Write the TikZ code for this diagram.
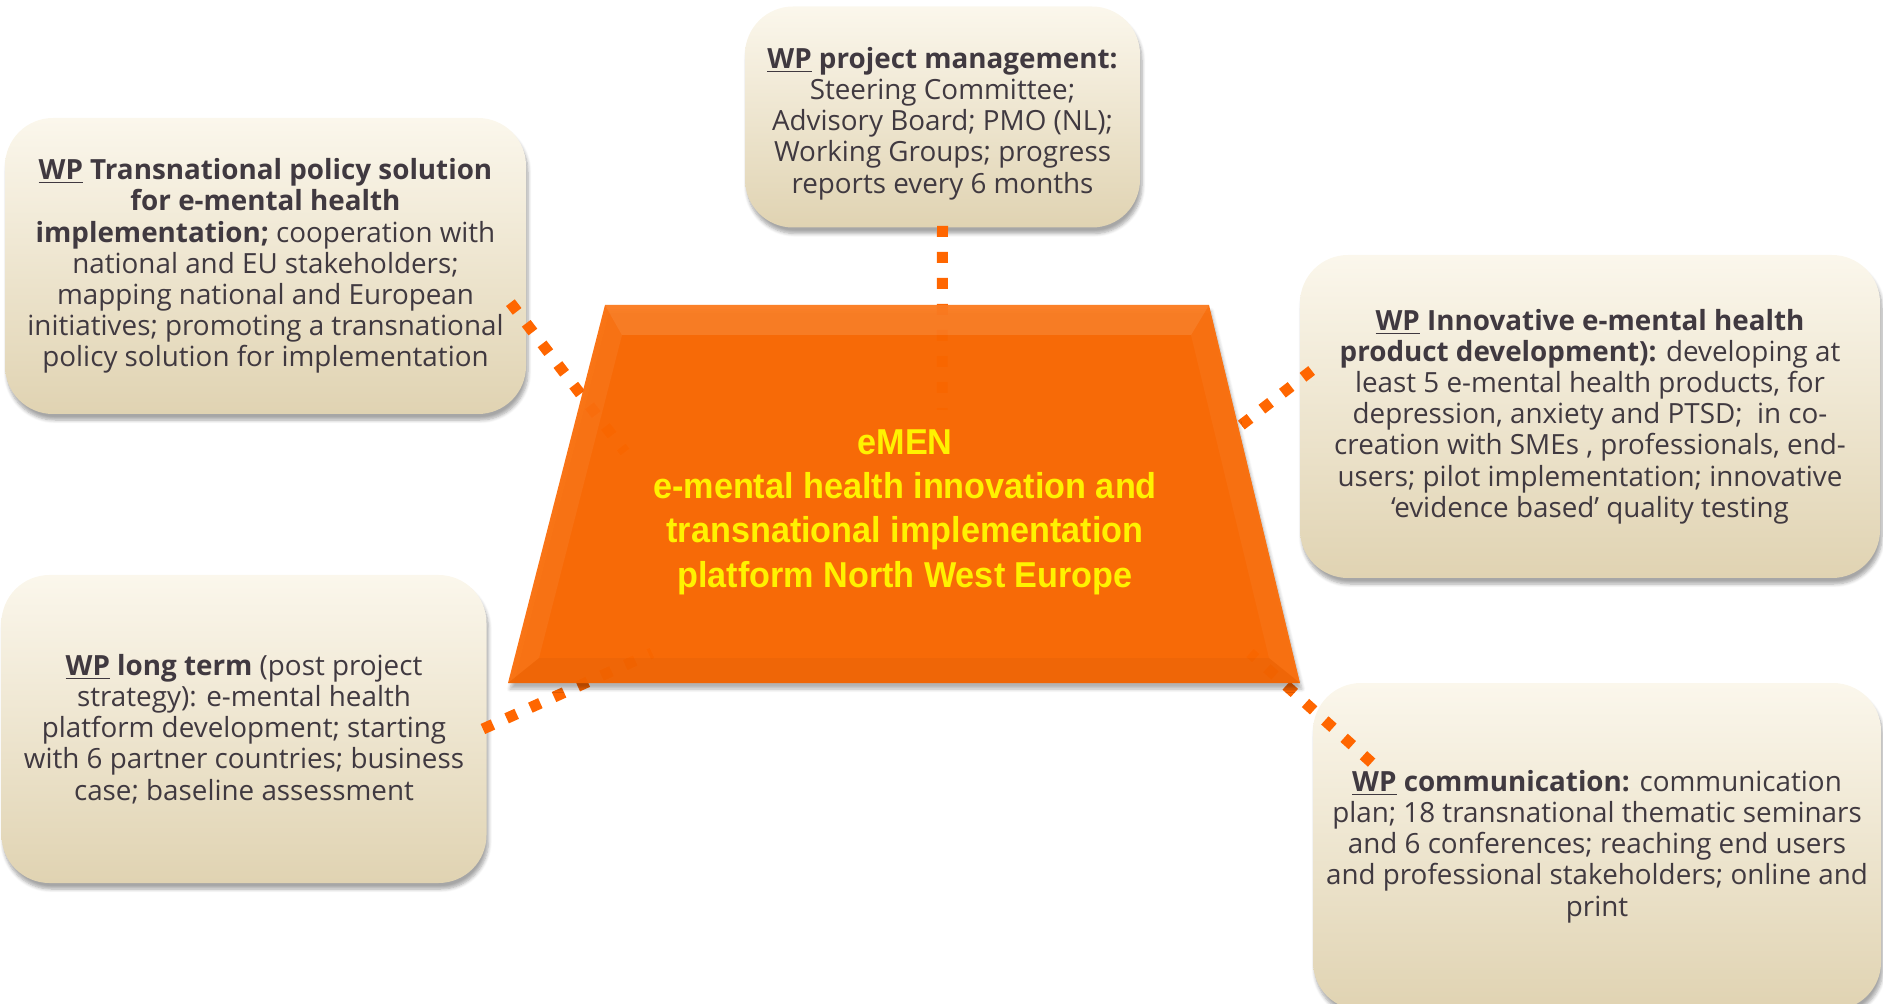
\documentclass[tikz,border=0pt]{standalone}
\usepackage{fontspec}
\newfontfamily\boxfont{Open Sans}
\newfontfamily\emenfont[FakeStretch=0.95]{Liberation Sans}
\usepackage{color}
\definecolor{myorange}{RGB}{251,104,0}
\definecolor{mydotorange}{RGB}{255,102,0}
\definecolor{mycreamtop}{RGB}{251,247,236}
\definecolor{mycreammid}{RGB}{244,233,206}
\definecolor{mycreambot}{RGB}{224,211,178}
\definecolor{mytextgray}{RGB}{64,57,64}
\usepackage{tikz}
\usetikzlibrary{calc,positioning,shadows.blur}

\begin{document}
\begin{tikzpicture}[
  x=0.5pt, y=-0.5pt,
  mybox/.style={
    rounded corners=24pt,
    top color=mycreamtop,
    middle color=mycreammid,
    bottom color=mycreambot,
    blur shadow={shadow xshift=1pt, shadow yshift=-3pt, shadow opacity=35, shadow blur steps=6},
    align=center,
    text=mytextgray,
    inner sep=0pt,
    font=\boxfont\fontsize{13.9}{15.6}\selectfont
    },
  mydots/.style={
    draw=mydotorange,
    line width=5.5pt,
    dash pattern=on 5.5pt off 7.5pt
    },
  mycenter/.style={
    align=center,
    text=yellow,
    font=\emenfont\bfseries\fontsize{18}{22.15}\selectfont
    }
]
\useasboundingbox (0,0) rectangle (1883,1004);

% work package boxes
\node[mybox, minimum width=197.5pt, minimum height=110.5pt]
  (pm) at (942.5,117)
  {\rule{0pt}{17pt}\textbf{\underline{WP} project management:}\\
   Steering Committee;\\
   Advisory Board; PMO (NL);\\
   Working Groups; progress\\
   reports every 6 months};

\node[mybox, minimum width=260.5pt, minimum height=148pt]
  (tp) at (265.5,266)
  {\textbf{\underline{WP} Transnational policy solution}\\
   \textbf{for e-mental health}\\
   \textbf{implementation;} cooperation with\\
   national and EU stakeholders;\\
   mapping national and European\\
   initiatives; promoting a transnational\\
   policy solution for implementation};

\node[mybox, minimum width=290pt, minimum height=161.5pt]
  (ip) at (1590,416.5)
  {\textbf{\underline{WP} Innovative e-mental health}\\
   \textbf{product development):} developing at\\
   least 5 e-mental health products, for\\
   depression, anxiety and PTSD;~~in co-\\
   creation with SMEs , professionals, end-\\
   users; pilot implementation; innovative\\
   ‘evidence based’ quality testing};

\node[mybox, minimum width=242.5pt, minimum height=154pt]
  (lt) at (244,729)
  {\textbf{\underline{WP} long term} (post project\\
   strategy): e-mental health\\
   platform development; starting\\
   with 6 partner countries; business\\
   case; baseline assessment};

\node[mybox, minimum width=284pt, minimum height=163.5pt]
  (com) at (1597,846.5)
  {\textbf{\underline{WP} communication:} communication\\
   plan; 18 transnational thematic seminars\\
   and 6 conferences; reaching end users\\
   and professional stakeholders; online and\\
   print};

% connector ends inside the platform
\coordinate (pmend) at (942,410);
\coordinate (tpend) at (625,452);
\coordinate (ipend) at (1235,430);
\coordinate (ltend) at (652,653);
\coordinate (comend) at (1250,653);

\draw[mydots] ([yshift=1pt]pm.south) -- (pmend);
\draw[mydots] ([xshift=-8pt]tp.-8) -- (tpend);
\draw[mydots] ([xshift=6pt]ip.171) -- (ipend);
\draw[mydots] ([xshift=-2pt]lt.east) -- (ltend);
\draw[mydots] ([xshift=29.5pt,yshift=-40pt]com.north west) -- (comend);

% platform trapezium with bevel
\coordinate (tl) at (605,305);
\coordinate (tr) at (1209,305);
\coordinate (br) at (1300,683);
\coordinate (bl) at (508,683);
\coordinate (itl) at (622,335);
\coordinate (itr) at (1191,335);
\coordinate (ibr) at (1269,658);
\coordinate (ibl) at (539,658);

\fill[myorange, fill opacity=0.96,
  blur shadow={shadow xshift=1pt, shadow yshift=-3pt, shadow opacity=30, shadow blur steps=6}]
  (tl) -- (tr) -- (br) -- (bl) -- cycle;
\fill[white, fill opacity=0.12] (tl) -- (tr) -- (itr) -- (itl) -- cycle;
\fill[white, fill opacity=0.05] (tl) -- (itl) -- (ibl) -- (bl) -- cycle;
\fill[white, fill opacity=0.04] (tr) -- (br) -- (ibr) -- (itr) -- cycle;
\fill[black, fill opacity=0.03] (bl) -- (ibl) -- (ibr) -- (br) -- cycle;

\node[mycenter] (emen) at (905,512)
  {eMEN\\
   e-mental health innovation and\\
   transnational implementation\\
   platform North West Europe};

\end{tikzpicture}
\end{document}
